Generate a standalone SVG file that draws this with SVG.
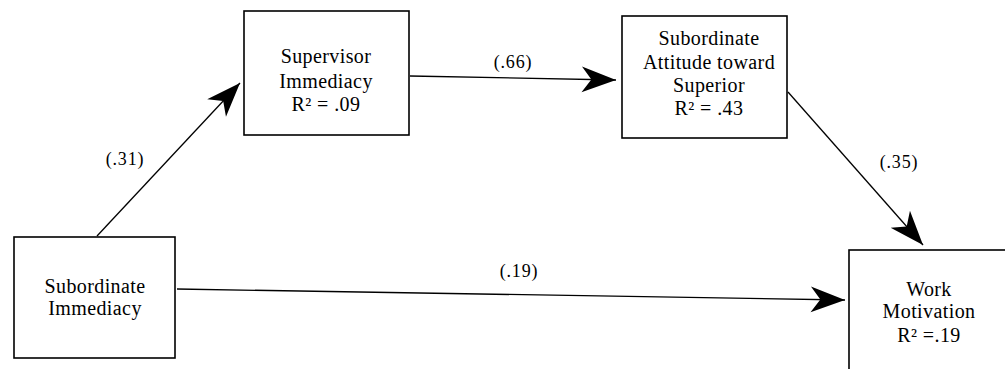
<svg xmlns="http://www.w3.org/2000/svg" width="1005" height="369" viewBox="0 0 1005 369">
<style>
.box{fill:#fff;stroke:#000;stroke-width:1.6}
.t{font-family:"Liberation Serif","Times New Roman",serif;font-size:20px;fill:#000;text-anchor:middle;letter-spacing:0.4px}
.lbl{font-family:"Liberation Serif","Times New Roman",serif;font-size:18px;fill:#000;text-anchor:middle;letter-spacing:0.8px}
.edge{stroke:#000;stroke-width:1.3;fill:none;marker-end:url(#ah)}
</style>
<defs>
<marker id="ah" markerUnits="userSpaceOnUse" markerWidth="40" markerHeight="30" viewBox="-34 -14 36 28" refX="0" refY="0" orient="auto">
<path d="M0,0 L-32,-12 L-23,0 L-32,12 Z" fill="#000"/>
</marker>
</defs>
<rect width="1005" height="369" fill="#fff"/>
<g id="connectors">
<line class="edge" x1="97" y1="236" x2="240" y2="83"/>
<line class="edge" x1="410" y1="76" x2="616" y2="80"/>
<line class="edge" x1="788" y1="92" x2="923" y2="245"/>
<line class="edge" x1="177" y1="289" x2="845" y2="300"/>
<text class="lbl" x="125" y="165">(.31)</text>
<text class="lbl" x="513" y="68">(.66)</text>
<text class="lbl" x="899" y="168">(.35)</text>
<text class="lbl" x="519" y="277">(.19)</text>
</g>
<g id="supervisor-immediacy">
<rect class="box" x="244" y="11" width="165" height="124"/>
<text class="t" x="326" y="63">Supervisor</text>
<text class="t" x="326" y="88">Immediacy</text>
<text class="t" x="326" y="111">R² = .09</text>
</g>
<g id="subordinate-attitude">
<rect class="box" x="622" y="16" width="165" height="122"/>
<text class="t" x="709" y="45">Subordinate</text>
<text class="t" x="709" y="69">Attitude toward</text>
<text class="t" x="709" y="92">Superior</text>
<text class="t" x="709" y="115">R² = .43</text>
</g>
<g id="subordinate-immediacy">
<rect class="box" x="14" y="237" width="161" height="121"/>
<text class="t" x="95" y="293">Subordinate</text>
<text class="t" x="95" y="315">Immediacy</text>
</g>
<g id="work-motivation">
<rect class="box" x="849" y="250" width="170" height="130"/>
<text class="t" x="929" y="296">Work</text>
<text class="t" x="929" y="318">Motivation</text>
<text class="t" x="929" y="342">R² =.19</text>
</g>
</svg>
